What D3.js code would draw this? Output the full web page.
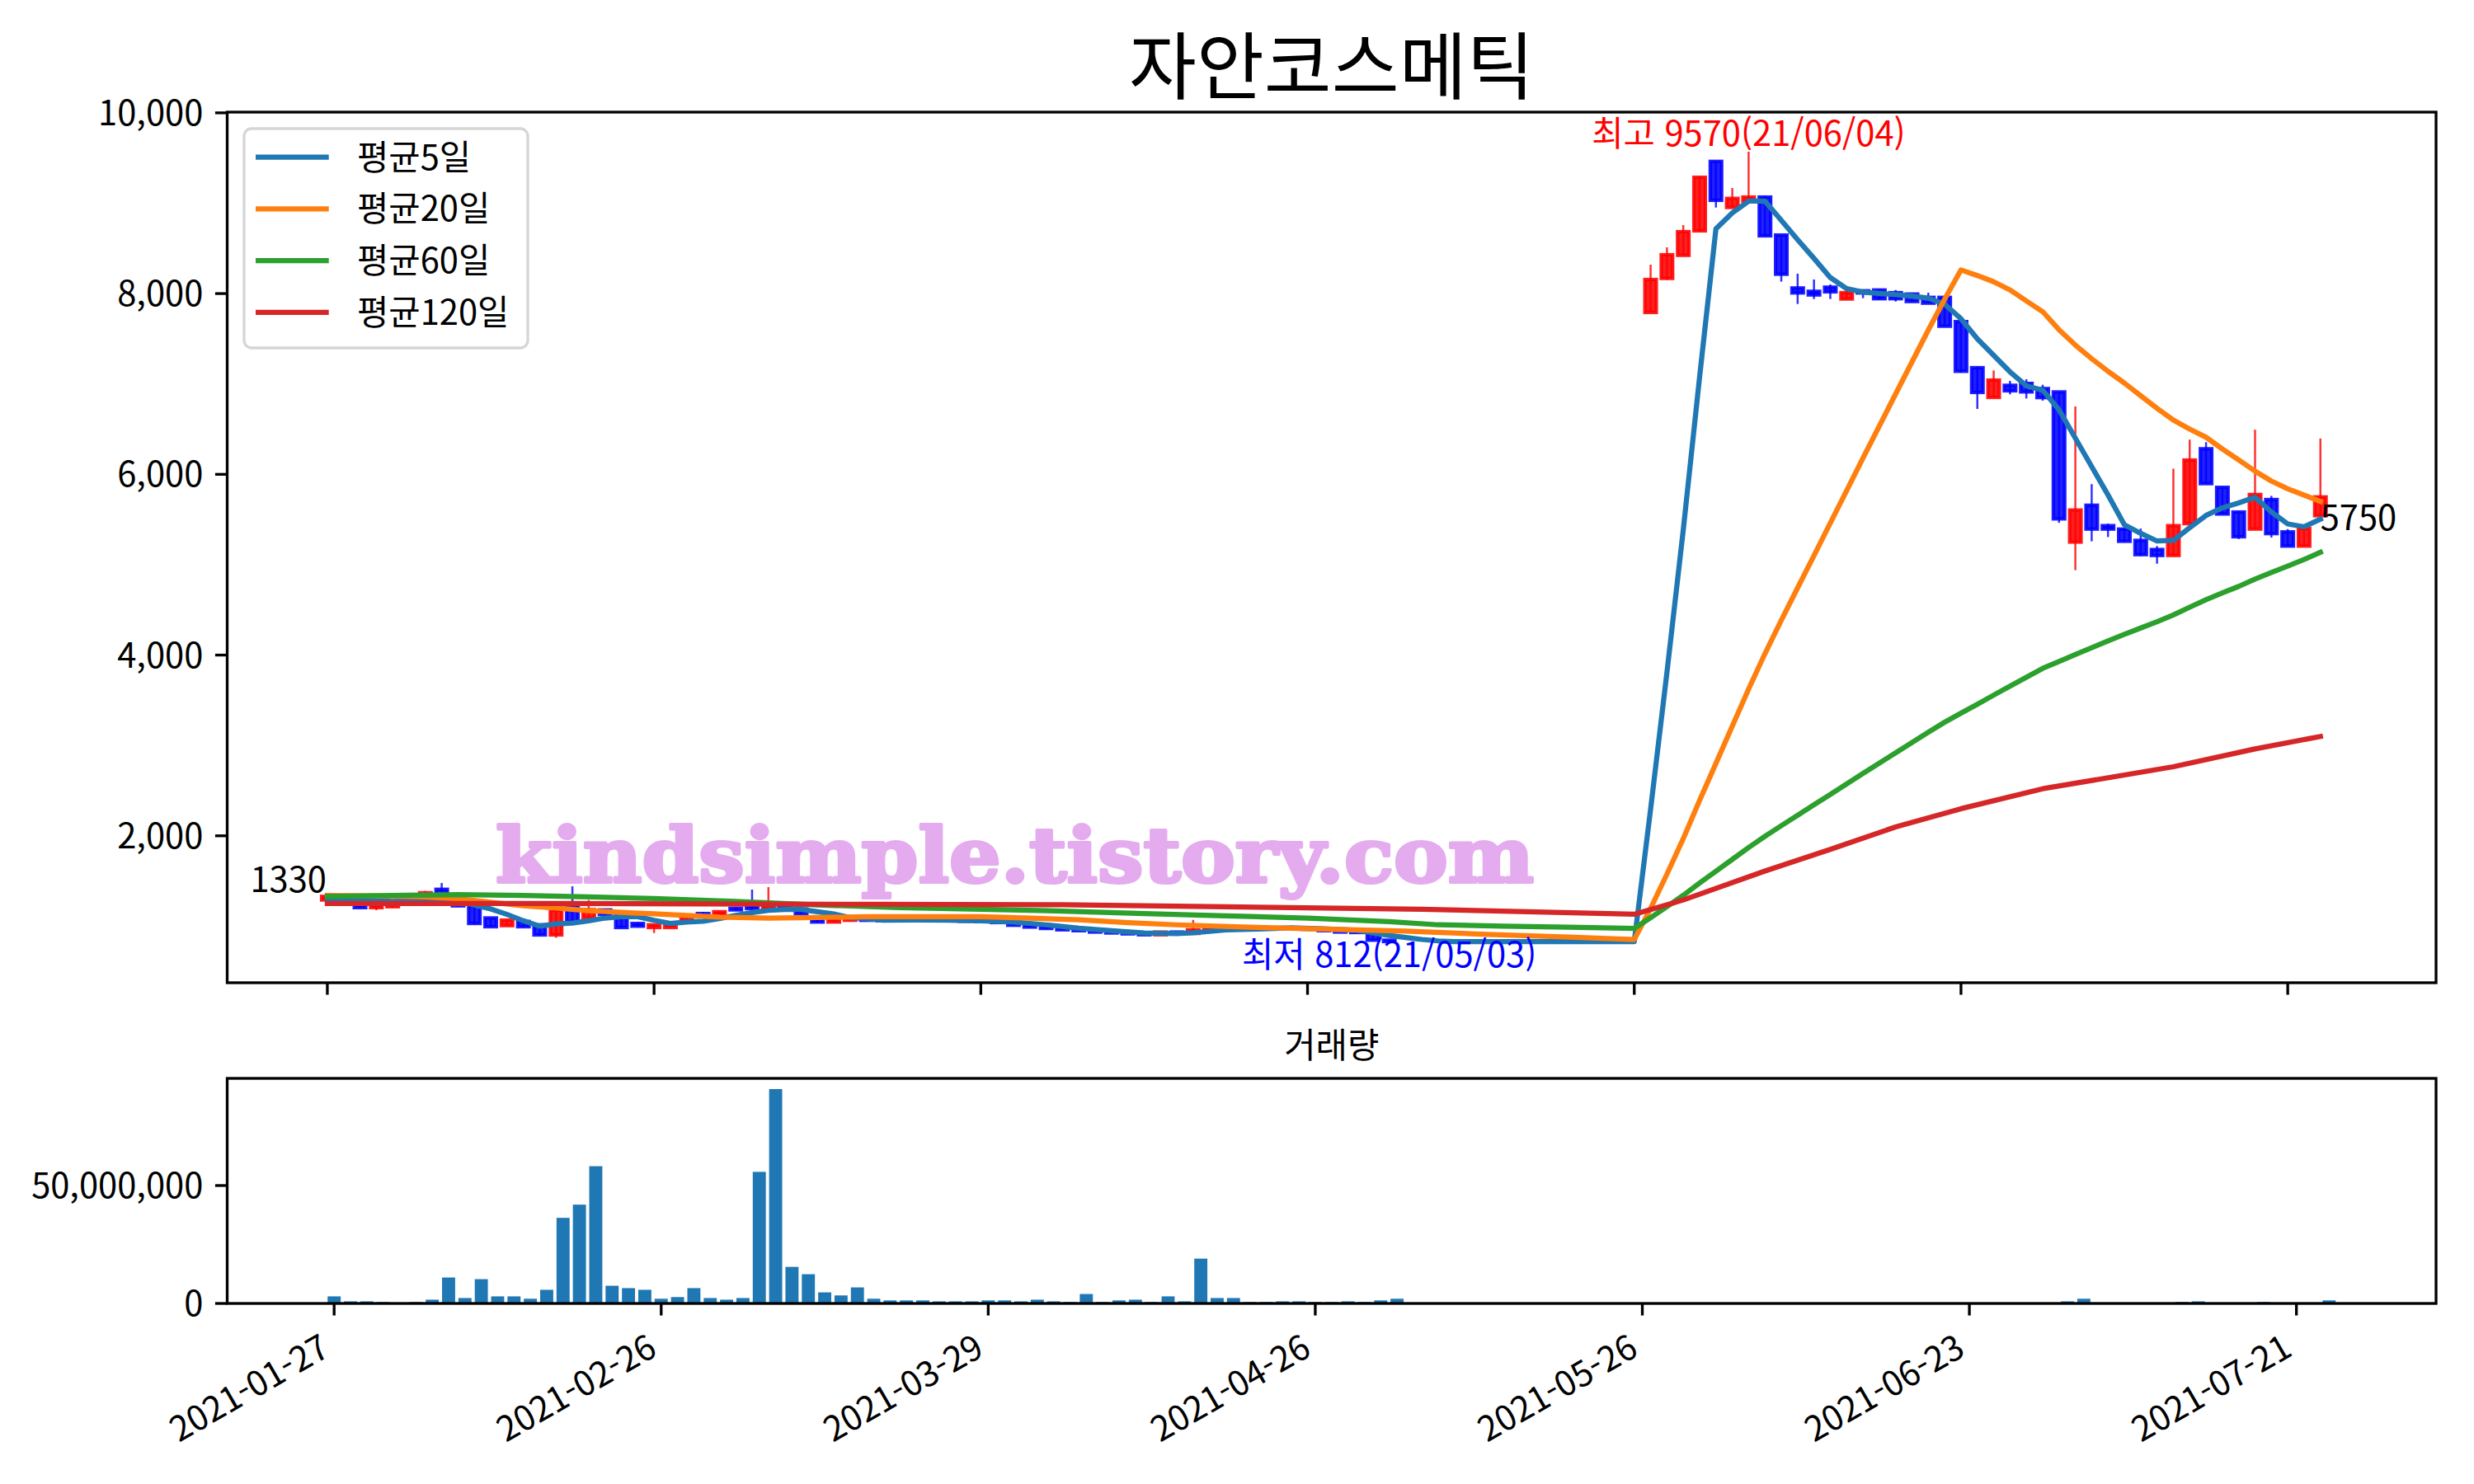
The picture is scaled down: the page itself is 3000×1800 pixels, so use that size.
<!DOCTYPE html>
<html lang="ko">
<head>
<meta charset="utf-8">
<title>자안코스메틱</title>
<script src="https://d3js.org/d3.v7.min.js"></script>
<style>
	body { margin: 0; background: #ffffff; }
	text { font-family: "Noto Sans CJK KR", "Noto Sans", sans-serif; }
</style>
</head>
<body>
<script>

// ---- data ----
var chartTitle = "자안코스메틱";
var volTitle = "거래량";
var tickIdx = [0, 20, 40, 60, 80, 100, 120];
var tickDates = ["2021-01-27", "2021-02-26", "2021-03-29", "2021-04-26", "2021-05-26", "2021-06-23", "2021-07-21"];
var hiDate = "21/06/04";
var loDate = "21/05/03";

// daily candles, null = trading halt (idx 66..80)
var opens = [1290,1330,1265,1205,1215,1250,1300,1408,1330,1225,1091,1006,1052,1015,903,1243,1091,1180,1128,1030,
	985,985,1061,1140,1128,1198,1215,1190,1225,1190,1091,1046,1065,1095,1065,1060,1075,1070,1060,1065,
	1055,1050,1040,1010,990,975,960,950,935,925,915,905,935,920,960,985,990,975,985,980,
	975,965,950,935,930,845,
	null,null,null,null,null,null,null,null,null,null,null,null,null,null,null,
	7791,8168,8423,8694,9463,8953,9022,9068,8648,8062,8025,8071,7940,8031,8040,8010,7995,7958,7958,7690,
	7180,6851,6985,7006,6949,6912,5250,5658,5432,5394,5269,5168,5102,5454,6283,5856,5583,5394,5721,5363,
	5206,5542];
var highs = [1345,1340,1275,1250,1260,1300,1390,1478,1340,1230,1095,1072,1058,1020,1240,1441,1289,1195,1135,1040,
	1020,1030,1110,1158,1165,1210,1405,1432,1230,1195,1100,1080,1100,1100,1075,1085,1080,1075,1070,1068,
	1060,1055,1045,1015,995,980,985,955,940,930,920,945,940,1070,995,1000,995,990,988,985,
	978,968,960,945,935,850,
	null,null,null,null,null,null,null,null,null,null,null,null,null,null,null,
	8320,8512,8758,9296,9463,9168,9570,9083,8648,8220,8156,8101,8031,8040,8046,8040,8001,8010,7970,7705,
	7190,7149,7034,7052,6991,6912,6751,5891,5454,5400,5400,5206,6063,6384,6356,5860,5590,6494,5762,5394,
	5420,6396];
var lows = [1280,1255,1198,1177,1207,1240,1290,1330,1213,1020,990,1000,990,895,872,1040,1085,1120,980,995,
	924,980,1055,1120,1120,1170,1185,1180,1180,1135,1040,1040,1060,1060,1050,1055,1062,1055,1055,1050,
	1045,1035,1005,985,970,955,945,930,920,910,895,900,915,915,955,980,970,970,975,970,
	960,945,930,925,840,812,
	null,null,null,null,null,null,null,null,null,null,null,null,null,null,null,
	7791,8153,8423,8685,8953,8953,9022,8633,8132,7885,7940,7940,7940,7949,7934,7912,7912,7894,7639,7128,
	6724,6851,6885,6839,6815,5463,4939,5259,5306,5250,5096,5011,5102,5454,5897,5561,5284,5394,5300,5206,
	5206,5542];
var closes = [1330,1265,1205,1240,1250,1290,1370,1340,1225,1030,994,1067,994,903,1176,1046,1183,1130,985,1000,
	1015,1021,1105,1128,1160,1180,1195,1225,1190,1140,1046,1070,1095,1065,1060,1075,1070,1060,1065,1055,
	1050,1040,1010,990,975,960,950,935,925,915,905,935,920,960,985,990,975,985,980,975,
	965,950,935,930,845,830,
	null,null,null,null,null,null,null,null,null,null,null,null,null,null,null,
	8156,8430,8685,9287,9032,9053,9068,8639,8214,8007,7985,8019,8010,8007,7943,7943,7912,7894,7639,7140,
	6906,7043,6924,6912,6849,5507,5605,5394,5394,5259,5111,5102,5432,6158,5897,5561,5309,5777,5344,5206,
	5400,5750];

// volume, millions of shares
var volumeM = [3.0,0.9,0.9,0.6,0.2,0.6,1.6,11.0,2.3,10.3,3.0,3.0,2.0,5.8,36.3,41.9,58.2,7.5,6.5,5.8,
	2.0,2.7,6.5,2.3,1.6,2.3,55.8,90.9,15.5,12.4,4.7,3.4,6.8,2.0,1.3,1.3,1.3,0.9,0.9,0.9,
	1.3,1.3,0.9,1.6,0.9,0.6,4.0,0.6,1.3,1.6,0.6,3.0,0.9,19.0,2.3,2.3,0.6,0.6,0.9,0.9,
	0.6,0.6,0.9,0.6,1.3,2.0,
	0,0,0,0,0,0,0,0,0,0,0,0,0,0,0,
	0.05,0.05,0.05,0.05,0.05,0.05,0.05,0.05,0.05,0.05,0.05,0.05,0.05,0.05,0.05,0.05,0.05,0.05,0.05,0.05,
	0.05,0.05,0.05,0.05,0.05,0.9,2.0,0.05,0.05,0.05,0.05,0.05,0.6,0.9,0.05,0.05,0.05,0.6,0.05,0.05,
	0.05,1.3];

// moving averages: [day index, value]
var ma5 = [[0,1304],[2,1290],[4,1275],[6,1290],[7,1300],[8,1270],[9,1235],[10,1190],[11,1130],[12,1060],
	[13,1000],[14,1025],[15,1035],[16,1060],[17,1090],[18,1105],[19,1105],[20,1065],[21,1030],[22,1045],
	[23,1055],[24,1085],[25,1120],[26,1150],[27,1175],[28,1185],[29,1185],[30,1160],[31,1135],[32,1095],
	[33,1085],[34,1067],[36,1068],[38,1066],[40,1060],[42,1045],[44,1015],[46,977],[48,950],[50,925],
	[52,918],[53,928],[55,958],[57,968],[59,981],[61,970],[63,955],[64,925],[65,898],[66,874],[67,853],
	[68,837],[69,830],[80,830],[81,2295],[82,3807],[83,5386],[84,7078],[85,8718],[86,8892],[87,9023],
	[88,9023],[89,8810],[90,8597],[91,8390],[92,8177],[93,8055],[94,8016],[95,8001],[96,7989],[97,7973],
	[98,7949],[99,7882],[100,7721],[101,7499],[102,7317],[103,7134],[104,6980],[105,6932],[106,6714],
	[107,6400],[108,6085],[109,5771],[110,5441],[111,5347],[112,5262],[113,5269],[114,5410],[115,5545],
	[116,5630],[117,5683],[118,5746],[119,5583],[120,5451],[121,5419],[122,5504]];
var ma20 = [[0,1341],[3,1335],[6,1325],[8,1304],[10,1265],[12,1225],[14,1200],[16,1172],[18,1152],[20,1137],
	[22,1118],[24,1100],[27,1088],[30,1095],[33,1105],[36,1106],[40,1105],[43,1090],[46,1070],[49,1040],
	[52,1015],[56,990],[60,972],[63,960],[66,945],[71,909],[76,880],[80,852],[81,1196],[82,1576],
	[83,1969],[84,2392],[85,2802],[86,3213],[87,3625],[88,4016],[89,4385],[90,4744],[91,5101],[92,5461],
	[93,5820],[94,6179],[95,6534],[96,6890],[97,7244],[98,7597],[99,7938],[100,8262],[101,8200],[102,8131],
	[103,8040],[104,7919],[105,7800],[106,7600],[107,7430],[108,7279],[109,7140],[110,7010],[111,6870],
	[112,6730],[113,6600],[114,6500],[115,6410],[116,6280],[117,6160],[118,6035],[119,5925],[120,5840],
	[121,5770],[122,5700]];
var ma60 = [[0,1328],[4,1340],[8,1348],[12,1340],[16,1325],[20,1305],[25,1275],[30,1235],[35,1205],[40,1188],
	[45,1167],[50,1140],[55,1115],[60,1090],[65,1050],[68,1015],[72,1000],[76,988],[80,975],[81,1094],
	[82,1216],[83,1342],[84,1477],[85,1608],[86,1739],[87,1870],[88,1994],[89,2112],[90,2228],[91,2343],
	[92,2458],[93,2574],[94,2690],[95,2804],[96,2919],[97,3033],[98,3147],[99,3257],[100,3358],[101,3456],
	[102,3557],[103,3656],[104,3755],[105,3853],[106,3929],[107,4007],[108,4081],[109,4156],[110,4229],
	[111,4299],[112,4369],[113,4444],[114,4530],[115,4612],[116,4688],[117,4760],[118,4840],[119,4913],
	[120,4984],[121,5058],[122,5138]];
var ma120 = [[0,1252],[15,1250],[33,1242],[45,1238],[55,1215],[62,1198],[67,1188],[80,1132],[83,1290],
	[88,1610],[92,1850],[96,2098],[100,2300],[105,2521],[113,2764],[118,2962],[122,3099]];

var maNames = ["평균5일", "평균20일", "평균60일", "평균120일"];
var maColors = ["#1f77b4", "#ff7f0e", "#2ca02c", "#d62728"];
var maSeries = [ma5, ma20, ma60, ma120];

// ---- layout ----
var w = 3000, h = 1800;
var pt = 300 / 72;          // figure was 300 dpi
var fs = 10 * pt;           // 10pt text
var pBox = { left: 275.5, right: 2954, top: 136, bottom: 1192 };
var vBox = { left: 275.5, right: 2954, top: 1308, bottom: 1581 };

var svg = d3.select("body")
	.append("svg")
	.attr("width", w)
	.attr("height", h);

var n = closes.length;

//Scales
var xP = d3.scaleLinear().domain([-6.13, 129.08]).range([pBox.left, pBox.right]);
var barSpan = (n - 1) + 0.8;
var xV = d3.scaleLinear()
	.domain([-0.4 - 0.05 * barSpan, n - 1 + 0.4 + 0.05 * barSpan])
	.range([vBox.left, vBox.right]);

var lo = d3.min(lows), hi = d3.max(highs);
var pad = 0.05 * (hi - lo);
var yP = d3.scaleLinear().domain([lo - pad, hi + pad]).range([pBox.bottom, pBox.top]);

var volumes = volumeM.map(function(v) { return v * 1e6; });
var yV = d3.scaleLinear().domain([0, d3.max(volumes) * 1.05]).range([vBox.bottom, vBox.top]);

svg.append("defs").append("clipPath").attr("id", "pclip")
	.append("rect")
	.attr("x", pBox.left).attr("y", pBox.top)
	.attr("width", pBox.right - pBox.left).attr("height", pBox.bottom - pBox.top);

// ---- price panel ----
var pg = svg.append("g").attr("clip-path", "url(#pclip)");

var step = xP(1) - xP(0);
var days = d3.range(n).filter(function(i) { return closes[i] !== null; });

var candle = pg.selectAll("g.candle")
	.data(days)
	.enter()
	.append("g")
	.attr("class", "candle");

function cColor(i) { return closes[i] >= opens[i] ? "#ff0000" : "#0000ff"; }

candle.append("line")
	.attr("x1", function(i) { return xP(i); })
	.attr("x2", function(i) { return xP(i); })
	.attr("y1", function(i) { return yP(highs[i]); })
	.attr("y2", function(i) { return yP(lows[i]); })
	.attr("stroke", cColor)
	.attr("stroke-opacity", 0.8)
	.attr("stroke-width", 0.6 * pt);

candle.append("rect")
	.attr("x", function(i) { return xP(i - 0.35); })
	.attr("width", step * 0.7)
	.attr("y", function(i) { return yP(Math.max(opens[i], closes[i])); })
	.attr("height", function(i) { return Math.abs(yP(opens[i]) - yP(closes[i])); })
	.attr("fill", cColor)
	.attr("fill-opacity", 0.88)
	.attr("stroke", cColor)
	.attr("stroke-opacity", 0.88)
	.attr("stroke-width", 1.0 * pt);

// moving average lines
var line = d3.line()
	.x(function(d) { return xP(d[0]); })
	.y(function(d) { return yP(d[1]); });

pg.selectAll("path.ma")
	.data(maSeries)
	.enter()
	.append("path")
	.attr("class", "ma")
	.attr("d", line)
	.attr("fill", "none")
	.attr("stroke", function(d, i) { return maColors[i]; })
	.attr("stroke-width", 1.5 * pt)
	.attr("stroke-linejoin", "round")
	.attr("stroke-linecap", "square");

// watermark
svg.append("text")
	.attr("x", 601)
	.attr("y", 1070)
	.attr("textLength", 1259)
	.attr("lengthAdjust", "spacingAndGlyphs")
	.style("font-family", "'DejaVu Serif', 'Liberation Serif', serif")
	.style("font-weight", "bold")
	.style("font-size", "92px")
	.attr("fill", "#e4abef")
	.attr("stroke", "#e4abef")
	.attr("stroke-width", 4)
	.attr("stroke-linejoin", "round")
	.text("kindsimple.tistory.com");

// hi / lo / first / last labels
var hiIdx = highs.indexOf(hi), loIdx = lows.indexOf(lo);
svg.append("text")
	.attr("x", xP(hiIdx)).attr("y", yP(hi) - 7)
	.attr("text-anchor", "middle")
	.style("font-size", fs + "px")
	.attr("fill", "#ff0000")
	.text("최고 " + hi + "(" + hiDate + ")");
svg.append("text")
	.attr("x", xP(loIdx)).attr("y", yP(lo) + 29)
	.attr("text-anchor", "middle")
	.style("font-size", fs + "px")
	.attr("fill", "#0000ff")
	.text("최저 " + lo + "(" + loDate + ")");
svg.append("text")
	.attr("x", xP(0) - 1).attr("y", yP(closes[0]) - 5)
	.attr("text-anchor", "end")
	.style("font-size", fs + "px")
	.text(closes[0]);
svg.append("text")
	.attr("x", xP(n - 1)).attr("y", yP(closes[n - 1]) + 40)
	.style("font-size", fs + "px")
	.text(closes[n - 1]);

// legend
var lg = svg.append("g");
lg.append("rect")
	.attr("x", 296).attr("y", 156)
	.attr("width", 344).attr("height", 266)
	.attr("rx", 9)
	.attr("fill", "#ffffff").attr("fill-opacity", 0.8)
	.attr("stroke", "#d6d6d6").attr("stroke-width", 0.8 * pt);
maNames.forEach(function(name, i) {
	var ly = 190.7 + i * 62.7;
	lg.append("line")
		.attr("x1", 310).attr("x2", 398.7)
		.attr("y1", ly).attr("y2", ly)
		.attr("stroke", maColors[i]).attr("stroke-width", 1.5 * pt);
	lg.append("text")
		.attr("x", 433).attr("y", ly + 15)
		.style("font-size", fs + "px")
		.text(name);
});

// ---- volume panel ----
svg.append("g").selectAll("rect")
	.data(d3.range(n).filter(function(i) { return volumes[i] > 0; }))
	.enter()
	.append("rect")
	.attr("x", function(i) { return xV(i - 0.4); })
	.attr("width", xV(0.8) - xV(0))
	.attr("y", function(i) { return yV(volumes[i]); })
	.attr("height", function(i) { return yV(0) - yV(volumes[i]); })
	.attr("fill", "#1f77b4");

// ---- axes frames, ticks, labels ----
function frame(b) {
	svg.append("rect")
		.attr("x", b.left).attr("y", b.top)
		.attr("width", b.right - b.left).attr("height", b.bottom - b.top)
		.attr("fill", "none").attr("stroke", "#000").attr("stroke-width", 0.8 * pt);
}
frame(pBox);
frame(vBox);

var tickLen = 3.5 * pt, tickPad = 3.5 * pt;

// price y ticks
var pTicks = [2000, 4000, 6000, 8000, 10000];
pTicks.forEach(function(v) {
	svg.append("line")
		.attr("x1", pBox.left).attr("x2", pBox.left - tickLen)
		.attr("y1", yP(v)).attr("y2", yP(v))
		.attr("stroke", "#000").attr("stroke-width", 0.8 * pt);
	svg.append("text")
		.attr("x", pBox.left - tickLen - tickPad).attr("y", yP(v) + 15)
		.attr("text-anchor", "end")
		.style("font-size", fs + "px")
		.text(d3.format(",")(v));
});

// volume y ticks
[0, 50000000].forEach(function(v) {
	svg.append("line")
		.attr("x1", vBox.left).attr("x2", vBox.left - tickLen)
		.attr("y1", yV(v)).attr("y2", yV(v))
		.attr("stroke", "#000").attr("stroke-width", 0.8 * pt);
	svg.append("text")
		.attr("x", vBox.left - tickLen - tickPad).attr("y", yV(v) + 15)
		.attr("text-anchor", "end")
		.style("font-size", fs + "px")
		.text(d3.format(",")(v));
});

// x ticks
tickIdx.forEach(function(t, k) {
	svg.append("line")
		.attr("x1", xP(t)).attr("x2", xP(t))
		.attr("y1", pBox.bottom).attr("y2", pBox.bottom + tickLen)
		.attr("stroke", "#000").attr("stroke-width", 0.8 * pt);
	svg.append("line")
		.attr("x1", xV(t)).attr("x2", xV(t))
		.attr("y1", vBox.bottom).attr("y2", vBox.bottom + tickLen)
		.attr("stroke", "#000").attr("stroke-width", 0.8 * pt);
	svg.append("text")
		.attr("transform", "translate(" + (xV(t) - 3) + "," + (vBox.bottom + 62) + ") rotate(-30)")
		.attr("text-anchor", "end")
		.style("font-size", fs + "px")
		.text(tickDates[k]);
});

// titles
var cx = (pBox.left + pBox.right) / 2;
svg.append("text")
	.attr("x", cx).attr("y", pBox.top - 23)
	.attr("text-anchor", "middle")
	.style("font-size", "89px")
	.text(chartTitle);
svg.append("text")
	.attr("x", cx).attr("y", vBox.top - 25)
	.attr("text-anchor", "middle")
	.style("font-size", fs + "px")
	.text(volTitle);

</script>
</body>
</html>
